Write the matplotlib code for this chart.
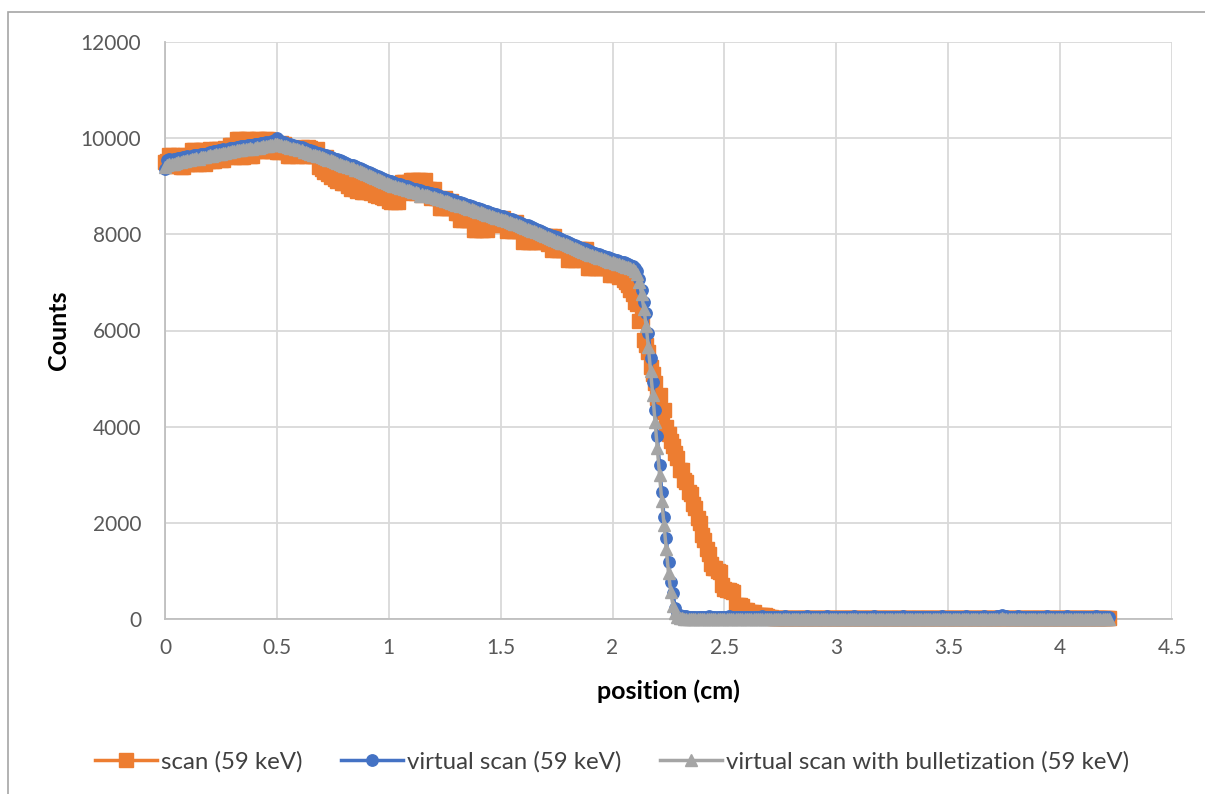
import numpy as np
import matplotlib
matplotlib.use("Agg")
import matplotlib.pyplot as plt
from matplotlib.patches import Rectangle

# scan positions: 0.00 .. 4.22 cm, one reading every 0.01 cm
step_cm = 0.01
n_points = 423
position_cm = np.round(np.arange(n_points) * step_cm, 2)

# measured scan (59 keV), one row = 0.1 cm
scan_counts = [
    9500, 9530, 9650, 9650, 9420, 9420, 9650, 9400, 9400, 9650,
    9460, 9460, 9750, 9750, 9460, 9460, 9750, 9750, 9470, 9530,
    9780, 9530, 9530, 9780, 9780, 9540, 9540, 9800, 9610, 9860,
    9860, 9610, 9980, 9980, 9610, 9610, 9980, 9980, 9620, 9620,
    9730, 9980, 9980, 9730, 9730, 9980, 9980, 9740, 9740, 9900,
    9710, 9710, 9900, 9880, 9710, 9630, 9630, 9800, 9800, 9630,
    9800, 9820, 9630, 9630, 9820, 9800, 9630, 9630, 9780, 9400,
    9350, 9300, 9600, 9250, 9200, 9500, 9150, 9100, 9420, 9070,
    9070, 9350, 9000, 8950, 9300, 8950, 8900, 9250, 8880, 8880,
    9200, 8880, 8850, 9150, 8820, 8800, 9100, 8780, 8760, 9050,
    8700, 8670, 8950, 8670, 8670, 8950, 9090, 9090, 8850, 9090,
    9130, 9130, 8850, 9130, 9130, 8820, 9130, 8940, 8940, 8760,
    8940, 8760, 8760, 8550, 8550, 8760, 8550, 8550, 8700, 8550,
    8450, 8450, 8300, 8300, 8550, 8300, 8300, 8450, 8090, 8090,
    8300, 8090, 8090, 8250, 8090, 8340, 8340, 8200, 8340, 8340,
    8200, 8340, 8260, 8070, 8260, 8070, 8070, 8260, 8070, 8070,
    7840, 7950, 7840, 7840, 8000, 7840, 7840, 7950, 7840, 7970,
    7970, 7800, 7970, 7680, 7970, 7680, 7680, 7800, 7680, 7680,
    7470, 7600, 7470, 7470, 7600, 7700, 7700, 7470, 7700, 7300,
    7300, 7450, 7300, 7300, 7400, 7300, 7300, 7350, 7300, 7155,
    7155, 7250, 7155, 7110, 7200, 7050, 7000, 6950, 6850, 6750,
    6600, 6550, 6200, 6250, 5800, 5700, 5550, 5250, 5100, 4900,
    4600, 4650, 4300, 4350, 4000, 3850, 3700, 3600, 3450, 3350,
    3100, 3100, 2900, 2850, 2650, 2600, 2400, 2300, 2100, 2000,
    1750, 1650, 1450, 1350, 1150, 1060, 1060, 1000, 980, 700,
    620, 600, 600, 580, 560, 300, 290, 290, 280, 190,
    190, 150, 145, 140, 90, 85, 85, 80, 80, 60,
    40, 40, 30, 30, 25, 25, 20, 20, 20, 20,
    20, 18, 22, 19, 21, 17, 20, 23, 18, 19,
    21, 18, 20, 22, 17, 19, 21, 20, 18, 22,
    19, 21, 18, 20, 23, 17, 19, 22, 20, 18,
    20, 22, 19, 17, 21, 20, 18, 23, 19, 21,
    18, 20, 22, 19, 17, 21, 20, 18, 22, 19,
    21, 19, 18, 22, 20, 17, 21, 19, 23, 18,
    20, 18, 21, 19, 22, 20, 17, 21, 18, 20,
    22, 19, 20, 18, 21, 23, 19, 17, 20, 21,
    18, 21, 19, 22, 20, 18, 21, 19, 17, 22,
    20, 19, 23, 21, 18, 20, 22, 19, 21, 18,
    19, 22, 20, 18, 21, 19, 17, 22, 20, 18,
    21, 18, 20, 22, 19, 21, 18, 20, 23, 19,
    18, 20, 21, 19, 17, 22, 20, 18, 21, 19,
    20, 22, 18, 21, 19, 20, 22, 18, 19, 21,
    20, 18, 19,
]

# virtual scan (59 keV)
virtual_counts = [
    9360, 9540, 9560, 9555, 9570, 9565, 9585, 9590, 9600, 9610,
    9620, 9615, 9635, 9640, 9650, 9645, 9670, 9680, 9675, 9700,
    9710, 9705, 9730, 9735, 9750, 9745, 9770, 9760, 9785, 9790,
    9800, 9795, 9820, 9815, 9830, 9840, 9835, 9855, 9860, 9850,
    9870, 9880, 9875, 9895, 9900, 9910, 9905, 9925, 9940, 9960,
    10000, 9960, 9930, 9910, 9900, 9880, 9870, 9860, 9845, 9830,
    9820, 9810, 9790, 9780, 9760, 9750, 9730, 9720, 9700, 9690,
    9680, 9660, 9640, 9625, 9610, 9590, 9575, 9560, 9540, 9520,
    9500, 9490, 9470, 9450, 9440, 9415, 9400, 9380, 9360, 9340,
    9320, 9305, 9280, 9260, 9240, 9220, 9200, 9170, 9150, 9130,
    9110, 9100, 9080, 9070, 9055, 9040, 9030, 9010, 9000, 8985,
    8970, 8950, 8945, 8930, 8920, 8910, 8890, 8880, 8870, 8855,
    8840, 8830, 8815, 8800, 8785, 8770, 8760, 8740, 8725, 8710,
    8690, 8680, 8665, 8650, 8630, 8620, 8600, 8590, 8570, 8555,
    8540, 8525, 8510, 8490, 8480, 8465, 8450, 8430, 8420, 8405,
    8390, 8375, 8360, 8340, 8325, 8310, 8290, 8275, 8255, 8240,
    8220, 8200, 8185, 8165, 8145, 8130, 8110, 8090, 8070, 8050,
    8030, 8015, 7995, 7975, 7955, 7935, 7920, 7900, 7880, 7860,
    7840, 7820, 7805, 7785, 7765, 7745, 7725, 7710, 7690, 7670,
    7650, 7635, 7620, 7600, 7585, 7570, 7555, 7535, 7520, 7505,
    7490, 7475, 7460, 7445, 7430, 7415, 7400, 7385, 7370, 7350,
    7300, 7230, 7080, 6850, 6590, 6365, 5950, 5430, 4930, 4350,
    3800, 3200, 2640, 2120, 1685, 1185, 770, 540, 230, 110,
    75, 62, 55, 52, 50, 48, 51, 47, 50, 49,
    46, 50, 48, 52, 47, 49, 51, 46, 48, 50,
    47, 49, 52, 48, 46, 50, 49, 47, 51, 48,
    50, 46, 48, 51, 49, 47, 50, 52, 48, 46,
    49, 51, 47, 48, 50, 46, 49, 52, 47, 50,
    48, 46, 51, 49, 47, 50, 48, 52, 46, 49,
    51, 47, 49, 48, 50, 46, 52, 49, 47, 48,
    50, 48, 46, 51, 49, 47, 50, 48, 52, 46,
    49, 51, 47, 50, 48, 46, 49, 52, 47, 50,
    48, 50, 46, 49, 51, 47, 48, 50, 49, 46,
    52, 48, 47, 50, 49, 51, 46, 48, 50, 47,
    49, 46, 51, 48, 50, 47, 49, 52, 48, 46,
    50, 49, 47, 51, 48, 46, 50, 49, 52, 47,
    48, 51, 46, 49, 50, 47, 52, 48, 49, 46,
    50, 48, 55, 62, 85, 60, 52, 48, 50, 47,
    49, 52, 47, 50, 48, 46, 51, 49, 47, 50,
    48, 46, 50, 49, 52, 47, 48, 51, 46, 49,
    50, 47, 49, 52, 48, 46, 51, 49, 47, 50,
    48, 51, 46, 49, 50, 47, 52, 48, 49, 46,
    50, 47, 50,
]

# virtual scan with bulletization (59 keV)
bullet_counts = [
    9410, 9440, 9455, 9470, 9460, 9490, 9500, 9495, 9520, 9530,
    9545, 9540, 9565, 9570, 9580, 9575, 9600, 9610, 9605, 9630,
    9640, 9635, 9660, 9665, 9680, 9675, 9700, 9690, 9715, 9720,
    9730, 9725, 9750, 9745, 9760, 9770, 9765, 9785, 9790, 9780,
    9800, 9810, 9805, 9825, 9830, 9840, 9835, 9855, 9860, 9870,
    9880, 9860, 9850, 9835, 9830, 9810, 9800, 9790, 9780, 9765,
    9760, 9745, 9720, 9710, 9690, 9680, 9660, 9650, 9630, 9620,
    9610, 9590, 9570, 9555, 9540, 9520, 9505, 9490, 9470, 9450,
    9430, 9420, 9400, 9380, 9370, 9345, 9330, 9310, 9290, 9270,
    9250, 9235, 9210, 9190, 9170, 9150, 9130, 9100, 9080, 9060,
    9040, 9030, 9010, 9000, 8985, 8970, 8960, 8940, 8930, 8915,
    8900, 8880, 8875, 8860, 8800, 8840, 8820, 8810, 8800, 8785,
    8770, 8760, 8745, 8730, 8715, 8700, 8690, 8670, 8655, 8640,
    8620, 8610, 8595, 8580, 8560, 8550, 8530, 8520, 8500, 8485,
    8470, 8455, 8440, 8420, 8410, 8395, 8380, 8360, 8350, 8335,
    8320, 8305, 8290, 8270, 8255, 8240, 8220, 8205, 8185, 8170,
    8150, 8130, 8115, 8095, 8075, 8060, 8040, 8020, 8000, 7980,
    7960, 7945, 7925, 7905, 7885, 7865, 7850, 7830, 7810, 7790,
    7770, 7750, 7735, 7715, 7695, 7675, 7655, 7640, 7620, 7600,
    7580, 7565, 7550, 7530, 7515, 7500, 7485, 7465, 7450, 7435,
    7420, 7405, 7390, 7375, 7360, 7345, 7330, 7315, 7300, 7285,
    7240, 7170, 7000, 6750, 6450, 6100, 5650, 5150, 4650, 4100,
    3560, 3000, 2450, 1950, 1450, 960, 560, 280, 120, 50,
    25, 15, 10, 8, 6, 5, 5, 4, 4, 3,
    3, 2, 4, 3, 2, 3, 1, 2, 3, 2,
    2, 3, 1, 2, 4, 2, 3, 2, 1, 3,
    2, 1, 3, 2, 2, 4, 1, 3, 2, 2,
    3, 2, 2, 1, 3, 2, 4, 2, 1, 2,
    2, 3, 1, 2, 2, 3, 2, 1, 3, 2,
    1, 2, 3, 2, 4, 1, 2, 3, 2, 2,
    3, 1, 2, 2, 3, 2, 1, 4, 2, 3,
    2, 2, 1, 3, 2, 4, 2, 1, 2, 3,
    2, 3, 2, 1, 3, 2, 2, 4, 1, 2,
    3, 2, 1, 2, 2, 3, 4, 2, 1, 2,
    2, 1, 3, 2, 3, 2, 2, 1, 4, 2,
    1, 3, 2, 2, 1, 4, 2, 3, 2, 1,
    2, 2, 3, 1, 2, 3, 2, 4, 1, 2,
    3, 2, 4, 8, 12, 7, 3, 2, 1, 3,
    2, 3, 1, 2, 2, 4, 2, 1, 3, 2,
    1, 2, 3, 2, 1, 2, 4, 2, 3, 2,
    2, 4, 1, 3, 2, 2, 1, 3, 2, 2,
    3, 2, 2, 1, 4, 2, 3, 2, 1, 2,
    2, 3, 2,
]

series_labels = ["scan (59 keV)", "virtual scan (59 keV)",
                 "virtual scan with bulletization (59 keV)"]
x_ticks = [0, 0.5, 1, 1.5, 2, 2.5, 3, 3.5, 4, 4.5]
x_tick_labels = ["0", "0.5", "1", "1.5", "2", "2.5", "3", "3.5", "4", "4.5"]
y_ticks = [0, 2000, 4000, 6000, 8000, 10000, 12000]

plt.rcParams['font.family'] = ['Lato', 'DejaVu Sans']

W, H = 1205, 794
fig = plt.figure(figsize=(W / 100, H / 100), dpi=100)
ax = fig.add_axes([165 / W, 1 - 619 / H, (1172 - 165) / W, (619 - 42) / H])

styles = [("#ED7D31", "s", 9.8), ("#4472C4", "o", 8.2), ("#A5A5A5", "^", 8.2)]
for vals, lab, (col, mk, ms) in zip([scan_counts, virtual_counts, bullet_counts],
                                    series_labels, styles):
    ax.plot(position_cm, vals, color=col, lw=2.5, marker=mk, markersize=ms,
            markerfacecolor=col, markeredgecolor=col, label=lab,
            clip_on=False, zorder=3)

ax.set_xlim(0, 4.5)
ax.set_ylim(0, 12000)
ax.set_xticks(x_ticks)
ax.set_xticklabels(x_tick_labels)
ax.set_yticks(y_ticks)
ax.tick_params(length=0, labelsize=15, labelcolor="#595959")
ax.tick_params(axis="y", pad=17)
ax.tick_params(axis="x", pad=14)
ax.grid(True, color="#D9D9D9", lw=1.3)
ax.set_axisbelow(True)
for s in ["top", "right"]:
    ax.spines[s].set_visible(False)
for s in ["left", "bottom"]:
    ax.spines[s].set_color("#BFBFBF")
    ax.spines[s].set_linewidth(1.3)

ax.set_xlabel("position (cm)", fontsize=18, fontweight="bold")
ax.set_ylabel("Counts", fontsize=18, fontweight="bold")
ax.xaxis.set_label_coords(0.5, (619 - 679) / 577)
ax.yaxis.set_label_coords((70 - 165) / 1007, 0.5)

fig.legend(loc="center", bbox_to_anchor=(612 / W, 1 - 762 / H), ncol=3,
           frameon=False, fontsize=17.3, handlelength=2.6, handletextpad=0.15,
           columnspacing=1.6, labelcolor="#404040")

fig.patches.append(Rectangle((8 / W, -0.05), 1.0, 1.05 - 12 / H,
                             transform=fig.transFigure, fill=False,
                             edgecolor="#A6A6A6", lw=1.2))

fig.savefig("out.png", dpi=100)
